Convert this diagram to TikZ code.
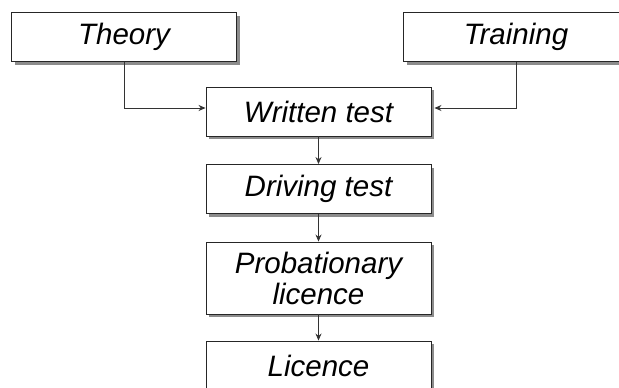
\documentclass[tikz,border=0pt]{standalone}
\usepackage{fontspec}
\setmainfont{Liberation Sans}
\usetikzlibrary{arrows.meta,shadows}
\begin{document}
\begin{tikzpicture}[x=1pt,y=-1pt,
  stagebox/.style={draw=black!85, line width=0.9pt, fill=white,
    minimum width=225pt, minimum height=49pt, inner sep=0pt,
    align=center, font=\fontsize{29.5}{31}\selectfont\itshape,
    drop shadow={shadow xshift=3pt, shadow yshift=-3pt, fill=black!45, opacity=1}},
  link/.style={draw=black!80, line width=0.8pt, -{Stealth[length=7pt,width=6pt]}}]
\useasboundingbox (0,0) rectangle (619,388);
\node[stagebox] (theory)   at (124,37)    {Theory};
\node[stagebox] (training) at (516,37)    {Training};
\node[stagebox] (written)  at (318.5,111.5) {Written test};
\node[stagebox] (driving)  at (318.5,189) {Driving test};
\node[stagebox, minimum height=72pt] (prob) at (318.5,278) {Probationary\\licence};
\node[stagebox] (licence)  at (318.5,365.5) {Licence};
\draw[link] (theory.south) |- ([yshift=3.5pt]written.west);
\draw[link] (training.south) |- ([xshift=3pt,yshift=3.5pt]written.east);
\draw[link] (written.south) -- (driving.north);
\draw[link] (driving.south) -- (prob.north);
\draw[link] (prob.south) -- (licence.north);
\end{tikzpicture}
\end{document}
